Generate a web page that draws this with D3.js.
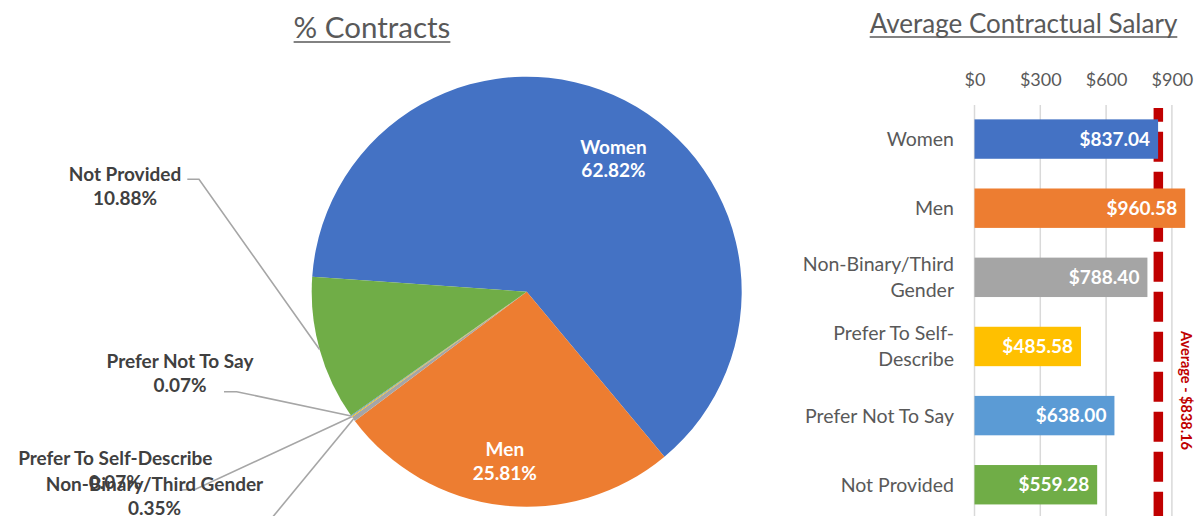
<!DOCTYPE html>
<html>
<head>
<meta charset="utf-8">
<script src="https://cdn.jsdelivr.net/npm/d3@7"></script>
<style>
  html, body { margin: 0; padding: 0; background: #ffffff; }
  svg { display: block; font-family: Lato, "Open Sans", sans-serif; }
</style>
</head>
<body>
<svg id="chart" width="1195" height="516"></svg>
<script>
// ---- data ----
const categories = ["Women", "Men", "Non-Binary/Third Gender", "Prefer To Self-Describe", "Prefer Not To Say", "Not Provided"];
const contractShare = [62.82, 25.81, 0.35, 0.07, 0.07, 10.88];
const averageSalary = [837.04, 960.58, 788.40, 485.58, 638.00, 559.28];
const overallAverage = 838.16;
const salaryTicks = [0, 300, 600, 900];
const salaryTickLabels = ["$0", "$300", "$600", "$900"];
const categoryLines = [["Women"], ["Men"], ["Non-Binary/Third", "Gender"], ["Prefer To Self-", "Describe"], ["Prefer Not To Say"], ["Not Provided"]];
const sliceColors = ["#4472C4", "#ED7D31", "#A5A5A5", "#FFC000", "#5B9BD5", "#70AD47"];

// ---- layout ----
const svg = d3.select("#chart");
const textGray = "#595959";
const labelGray = "#404040";
const leaderGray = "#A6A6A6";
const avgRed = "#C00000";
const deg = Math.PI / 180;

// Titles with a drawn underline
function title(x, y, text, size) {
  const t = svg.append("text")
    .attr("x", x).attr("y", y)
    .attr("text-anchor", "middle")
    .attr("font-size", size)
    .attr("fill", textGray)
    .text(text);
  const w = t.node().getComputedTextLength();
  svg.append("line")
    .attr("x1", x - w / 2).attr("x2", x + w / 2)
    .attr("y1", y + 4).attr("y2", y + 4)
    .attr("stroke", textGray).attr("stroke-width", 1.6);
}
title(372, 38, "% Contracts", 29.5);
title(1023.5, 33, "Average Contractual Salary", 26);

// ---- pie: share of contracts ----
const cx = 526.7, cy = 291.7, R = 215;
const start = -86 * deg;
const pie = d3.pie().sort(null).startAngle(start).endAngle(start + 2 * Math.PI);
const arcs = pie(contractShare);
const arc = d3.arc().innerRadius(0).outerRadius(R);

const pieG = svg.append("g").attr("transform", `translate(${cx},${cy})`);
pieG.selectAll("path.slice")
  .data(arcs)
  .join("path")
  .attr("class", "slice")
  .attr("d", arc)
  .attr("fill", (d, i) => sliceColors[i]);

// label placement per slice: inside (polar) or outside with leader elbow
const labelLayout = [
  { inside: true, angle: 33.3, r: 158 },
  { inside: true, angle: 187.3, r: 172 },
  { inside: false, x: 154.5, y: 491, elbow: null, end: [262, 530] },
  { inside: false, x: 115.3, y: 465, elbow: [[182, 490], [196, 489]] },
  { inside: false, x: 180, y: 368.3, elbow: [[224, 391.7], [236.7, 391.7]] },
  { inside: false, x: 125, y: 181, elbow: [[187.3, 179.3], [199, 179.3]] }
];
const lineGap = 23.8;
const pctFmt = v => v.toFixed(2) + "%";

// leader lines first, labels drawn on top
arcs.forEach((d, i) => {
  const L = labelLayout[i];
  if (L.inside) return;
  const mid = (d.startAngle + d.endAngle) / 2;
  const px = cx + R * Math.sin(mid), py = cy - R * Math.cos(mid);
  let pts;
  if (L.elbow) pts = [...L.elbow, [px, py]];
  else pts = [[px, py], L.end];
  svg.append("path")
    .attr("d", d3.line()(pts))
    .attr("fill", "none")
    .attr("stroke", leaderGray)
    .attr("stroke-width", 1.6);
});

arcs.forEach((d, i) => {
  const L = labelLayout[i];
  let x, y, fill;
  if (L.inside) {
    x = cx + L.r * Math.sin(L.angle * deg);
    y = cy - L.r * Math.cos(L.angle * deg) - 6;
    fill = "#ffffff";
  } else {
    x = L.x; y = L.y; fill = labelGray;
  }
  const t = svg.append("text")
    .attr("text-anchor", "middle")
    .attr("font-size", 19)
    .attr("font-weight", 700)
    .attr("fill", fill);
  t.append("tspan").attr("x", x).attr("y", y).text(categories[i]);
  t.append("tspan").attr("x", x).attr("y", y + lineGap).text(pctFmt(d.data));
});

// ---- bars: average contractual salary ----
const x = d3.scaleLinear().domain([0, 900]).range([974.5, 1171.9]);
const y = d3.scaleBand().domain(categories).range([104.5, 519.3])
  .paddingInner(0.43).paddingOuter(0.215);

// gridlines
svg.append("g").selectAll("line")
  .data(salaryTicks)
  .join("line")
  .attr("x1", d => x(d)).attr("x2", d => x(d))
  .attr("y1", 105).attr("y2", 516)
  .attr("stroke", "#D9D9D9").attr("stroke-width", 1.5);

// top axis labels
const axis = d3.axisTop(x).tickValues(salaryTicks)
  .tickFormat((d, i) => salaryTickLabels[i]).tickSize(0).tickPadding(0);
const axG = svg.append("g").attr("transform", "translate(0,86)").call(axis);
axG.select(".domain").remove();
axG.selectAll("text")
  .attr("font-size", 18).attr("fill", textGray)
  .attr("font-family", "Lato, 'Open Sans', sans-serif")
  .attr("dy", 0);

// overall average reference line (behind bars)
svg.append("line")
  .attr("x1", x(overallAverage)).attr("x2", x(overallAverage))
  .attr("y1", 108).attr("y2", 520)
  .attr("stroke", avgRed).attr("stroke-width", 9.5)
  .attr("stroke-dasharray", "30,10").attr("stroke-dashoffset", 16.3);

svg.append("text")
  .attr("transform", `translate(1186.5,390.5) rotate(90)`)
  .attr("text-anchor", "middle")
  .attr("dominant-baseline", "central")
  .attr("font-size", 14.5).attr("font-weight", 700)
  .attr("fill", avgRed)
  .text("Average - $" + overallAverage.toFixed(2));

// bars
svg.append("g").selectAll("rect")
  .data(categories)
  .join("rect")
  .attr("x", x(0))
  .attr("y", d => y(d))
  .attr("width", (d, i) => x(averageSalary[i]) - x(0))
  .attr("height", y.bandwidth())
  .attr("fill", (d, i) => sliceColors[i]);

// value labels inside bar ends
const money = d3.format(",.2f");
svg.append("g").selectAll("text")
  .data(categories)
  .join("text")
  .attr("x", (d, i) => x(averageSalary[i]) - 8)
  .attr("y", d => y(d) + y.bandwidth() / 2)
  .attr("dy", "0.35em")
  .attr("text-anchor", "end")
  .attr("font-size", 19).attr("font-weight", 700)
  .attr("fill", "#ffffff")
  .text((d, i) => "$" + money(averageSalary[i]));

// category labels (wrapped)
const catG = svg.append("g");
categories.forEach((c, i) => {
  const lines = categoryLines[i];
  const mid = y(c) + y.bandwidth() / 2;
  const lh = 26;
  const t = catG.append("text")
    .attr("text-anchor", "end")
    .attr("font-size", 19.5)
    .attr("fill", textGray);
  lines.forEach((ln, k) => {
    t.append("tspan")
      .attr("x", 954)
      .attr("y", mid + 7 + (k - (lines.length - 1) / 2) * lh)
      .text(ln);
  });
});
</script>
</body>
</html>
